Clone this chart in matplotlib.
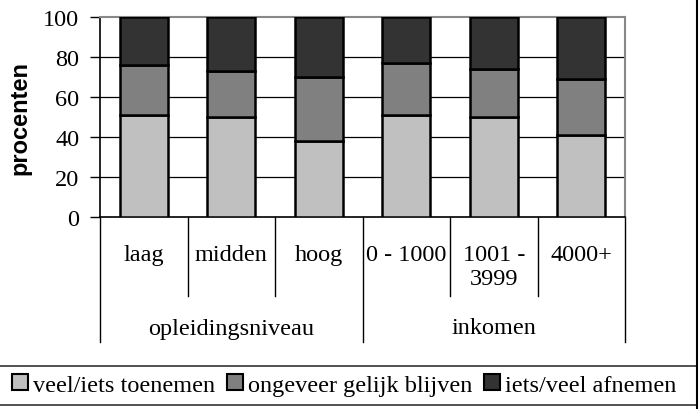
import numpy as np
import matplotlib.pyplot as plt
from matplotlib.patches import Rectangle
from matplotlib.lines import Line2D
import matplotlib.transforms as mtrans

categories = ['laag', 'midden', 'hoog', '0 - 1000', '1001 -\n3999', '4000+']
groups = ['opleidingsniveau', 'inkomen']
series = ['veel/iets toenemen', 'ongeveer gelijk blijven', 'iets/veel afnemen']
toenemen = [51, 50, 38, 51, 50, 41]
gelijk = [25, 23, 32, 26, 24, 28]
afnemen = [24, 27, 30, 23, 26, 31]
colors = ['#c0c0c0', '#808080', '#333333']

W, H = 699, 410
FS = 17.5
plt.rcParams['font.family'] = 'Liberation Serif'
fig = plt.figure(figsize=(W/100, H/100), dpi=100)

def fx(px): return px / W
def fy(py): return 1 - py / H

ax = fig.add_axes([fx(100), fy(218), fx(625) - fx(100), fy(18) - fy(218)])
x = np.arange(len(categories))
bottom = np.zeros(len(categories))
for vals, c in zip([toenemen, gelijk, afnemen], colors):
    ax.bar(x, vals, 0.55, bottom=bottom, color=c, edgecolor='black', linewidth=1.8, zorder=3)
    bottom += np.array(vals)

ax.set_xlim(-0.5, len(categories) - 0.5)
ax.set_ylim(0, 100)
ax.set_yticks(range(0, 101, 20))
ax.tick_params(axis='y', labelsize=FS, length=7, width=1, direction='out', pad=8)
ax.set_xticks([])
for y in range(20, 100, 20):
    ax.axhline(y, color='black', linewidth=0.9, zorder=1)
for s in ['top', 'right']:
    ax.spines[s].set_color('#888888')
    ax.spines[s].set_linewidth(1.5)
for s in ['left', 'bottom']:
    ax.spines[s].set_color('black')
    ax.spines[s].set_linewidth(1.2)

ax.set_ylabel('procenten', family='Liberation Sans', fontweight='bold', fontsize=17)
ax.yaxis.set_label_coords(-(100 - 31) / 525, 0.5)

# hierarchical category axis
tr = mtrans.blended_transform_factory(ax.transData, ax.transAxes)
for i, lab in enumerate(categories):
    ax.text(i, -0.135, lab, transform=tr, ha='center', va='top', fontsize=FS, linespacing=1.2)
for b in np.arange(-0.5, len(categories), 1.0):
    low = -0.625 if b in (-0.5, 2.5, 5.5) else -0.395
    ax.add_line(Line2D([b, b], [0, low], transform=tr, color='black', linewidth=1, clip_on=False))
for gi, g in enumerate(groups):
    ax.text(1 + 3 * gi, -0.555, g, transform=tr, ha='center', va='center', fontsize=FS)

# outer frame on the right and legend box
fig.add_artist(Line2D([fx(697), fx(697)], [0, 1], transform=fig.transFigure, color='black', linewidth=1.5))
fig.add_artist(Rectangle((fx(-3), fy(406)), fx(700), fy(367) - fy(406), transform=fig.transFigure,
                         fill=False, edgecolor='#333333', linewidth=1.2))
handles = [Rectangle((0, 0), 1, 1, facecolor=c, edgecolor='black', linewidth=1.5) for c in colors]
fig.legend(handles, series, loc='center', bbox_to_anchor=(fx(344), fy(386)), ncol=3, frameon=False,
           fontsize=FS, handlelength=0.65, handleheight=0.65, handletextpad=0.2, columnspacing=0.5,
           borderaxespad=0, borderpad=0)

fig.savefig('out.png', dpi=100)
